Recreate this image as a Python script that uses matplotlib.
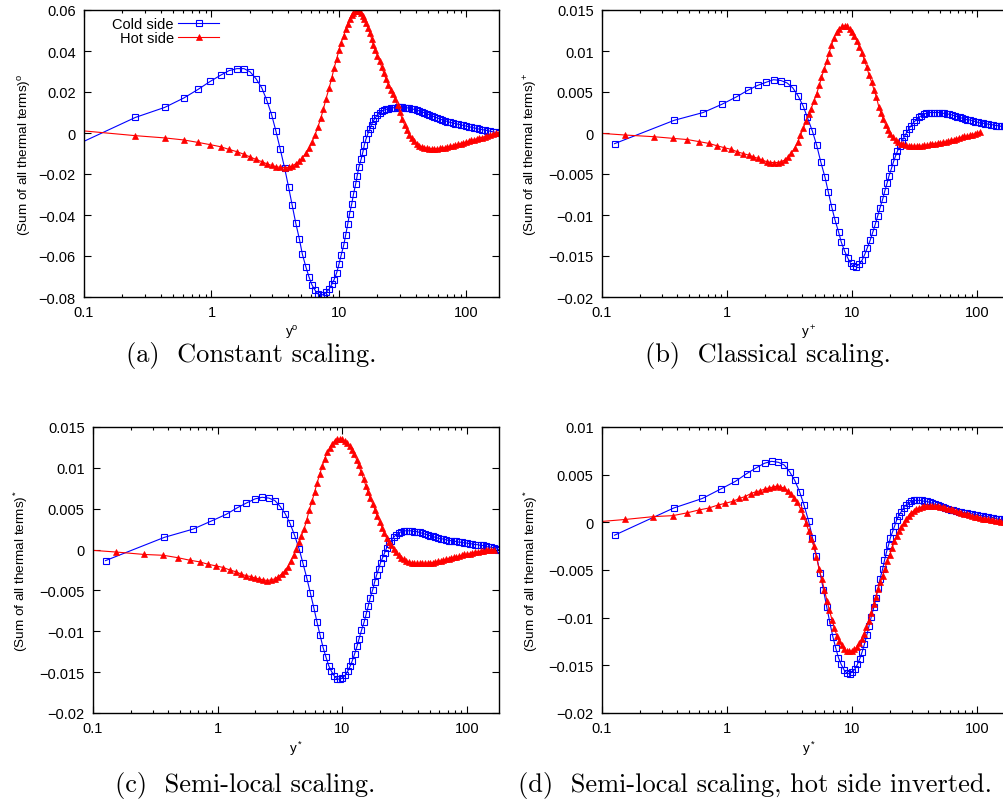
import matplotlib
matplotlib.use("Agg")
import matplotlib.pyplot as plt
from matplotlib.ticker import FixedLocator, LogLocator, FuncFormatter, NullFormatter

plt.rcParams['font.family'] = ['Liberation Sans', 'DejaVu Sans']
plt.rcParams['mathtext.fontset'] = 'custom'
plt.rcParams['mathtext.rm'] = 'Liberation Sans'
plt.rcParams['mathtext.it'] = 'Liberation Sans'

# ---- (a) constant scaling: both sides on the same grid ----
x_a = [0.073, 0.253, 0.43, 0.608, 0.786, 0.979, 1.18, 1.37, 1.58, 1.80,
       2.01, 2.24, 2.48, 2.71, 2.96, 3.20, 3.46, 3.74, 4.02, 4.29,
       4.58, 4.89, 5.16, 5.50, 5.81, 6.13, 6.47, 6.82, 7.20, 7.55,
       7.92, 8.36, 8.77, 9.15, 9.58, 10.0, 10.4, 10.9, 11.3, 11.7,
       12.1, 12.6, 13.0, 13.5, 13.9, 14.3, 14.9, 15.4, 15.8, 16.3,
       16.9, 17.5, 18.0, 18.6, 19.2, 20.0, 20.8, 21.6, 22.5, 23.4,
       24.4, 25.4, 26.5, 27.6, 28.8, 30.0, 31.3, 32.7, 34.1, 35.6,
       37.2, 38.9, 40.7, 42.6, 44.6, 46.7, 48.9, 51.2, 53.6, 56.1,
       58.8, 61.6, 64.6, 67.7, 71.0, 74.4, 78.0, 81.8, 85.8, 90.0,
       94.4, 99.0, 104, 109, 114, 120, 126, 132, 139, 146,
       153, 161, 170, 180]
cold_a = [-0.0080, 0.0076, 0.0125, 0.0171, 0.0213, 0.0252, 0.0282, 0.0304, 0.0314, 0.0314,
          0.0298, 0.0264, 0.0220, 0.0161, 0.0090, 0.0010, -0.0078, -0.0169, -0.0262, -0.0351,
          -0.0439, -0.0517, -0.0591, -0.0653, -0.0701, -0.0740, -0.0766, -0.0784, -0.0791, -0.0788,
          -0.0778, -0.0762, -0.0739, -0.0716, -0.0683, -0.0640, -0.0596, -0.0547, -0.0496, -0.0446,
          -0.0395, -0.0345, -0.0298, -0.0251, -0.0208, -0.0168, -0.0129, -0.0093, -0.0059, -0.0029,
          -0.0002, 0.0020, 0.0041, 0.0059, 0.0073, 0.0088, 0.0099, 0.0106, 0.0111, 0.0115,
          0.0118, 0.0121, 0.0123, 0.0124, 0.0125, 0.0125, 0.0125, 0.0124, 0.0123, 0.0121,
          0.0118, 0.0115, 0.0112, 0.0108, 0.0104, 0.0099, 0.0094, 0.0089, 0.0084, 0.0079,
          0.0074, 0.0069, 0.0064, 0.0060, 0.0056, 0.0052, 0.0049, 0.0046, 0.0043, 0.0040,
          0.0037, 0.0034, 0.0031, 0.0028, 0.0025, 0.0022, 0.0019, 0.0017, 0.0014, 0.0012,
          0.0009, 0.0006, 0.0003, 0.0]
hot_a = [0.0018, -0.0013, -0.0024, -0.0034, -0.0046, -0.0057, -0.0067, -0.0080, -0.0091, -0.0104,
         -0.0117, -0.0129, -0.0140, -0.0150, -0.0158, -0.0164, -0.0168, -0.0169, -0.0168, -0.0161,
         -0.0150, -0.0137, -0.0120, -0.0099, -0.0075, -0.0046, -0.0011, 0.0028, 0.0072, 0.0117,
         0.0168, 0.0218, 0.0267, 0.0316, 0.0360, 0.0404, 0.0441, 0.0475, 0.0506, 0.0532,
         0.0556, 0.0574, 0.0587, 0.0595, 0.0597, 0.0594, 0.0584, 0.0573, 0.0557, 0.0536,
         0.0512, 0.0486, 0.0460, 0.0430, 0.0405, 0.0378, 0.0350, 0.0322, 0.0292, 0.0262,
         0.0236, 0.0212, 0.0190, 0.0165, 0.0135, 0.0102, 0.0068, 0.0040, 0.0014, -0.0008,
         -0.0026, -0.0041, -0.0052, -0.0061, -0.0067, -0.0071, -0.0074, -0.0076, -0.0076, -0.0076,
         -0.0076, -0.0075, -0.0073, -0.0071, -0.0068, -0.0065, -0.0062, -0.0058, -0.0055, -0.0052,
         -0.0048, -0.0044, -0.0040, -0.0036, -0.0033, -0.0029, -0.0025, -0.0022, -0.0018, -0.0014,
         -0.0010, -0.0006, -0.0002, 0.0]

# ---- (b) classical scaling ----
xc_b = [0.126, 0.378, 0.644, 0.908, 1.186, 1.46, 1.75, 2.06, 2.35, 2.69,
        3.02, 3.35, 3.70, 4.05, 4.38, 4.81, 5.20, 5.60, 6.06, 6.44,
        6.85, 7.28, 7.79, 8.17, 8.69, 9.18, 9.70, 10.1, 10.7, 11.4,
        12.0, 12.6, 13.2, 13.9, 14.6, 15.3, 16.0, 16.7, 17.5, 18.2,
        19.0, 19.7, 20.6, 21.4, 22.2, 23.0, 24.0, 25.0, 26.0, 27.1,
        28.3, 29.6, 31.0, 32.5, 34.0, 35.6, 37.3, 39.1, 41.0, 43.0,
        45.1, 47.3, 49.6, 52.0, 54.5, 57.1, 59.9, 62.8, 65.8, 69.0,
        72.3, 75.8, 79.5, 83.4, 87.4, 91.6, 96.0, 101, 106, 111,
        116, 122, 128, 134, 141, 148, 155, 163, 171, 180,
        190, 200, 211, 222, 234, 246]
cold_b = [-0.0013, 0.00155, 0.0025, 0.0035, 0.0044, 0.0052, 0.0058, 0.0062, 0.0065, 0.0064,
          0.0061, 0.0055, 0.0045, 0.0033, 0.0019, 0.0002, -0.0015, -0.0035, -0.0054, -0.0072,
          -0.0090, -0.0106, -0.0121, -0.0133, -0.0144, -0.0152, -0.0159, -0.0162, -0.0163, -0.0160,
          -0.0155, -0.0148, -0.0140, -0.0131, -0.0121, -0.0111, -0.0101, -0.0091, -0.0081, -0.0071,
          -0.0061, -0.0052, -0.0043, -0.0035, -0.0028, -0.0022, -0.0016, -0.0010, -0.0005, 0.0,
          0.0005, 0.0009, 0.0013, 0.0016, 0.0019, 0.0021, 0.0023, 0.0024, 0.0025, 0.0025,
          0.0025, 0.0025, 0.0025, 0.0024, 0.0024, 0.0023, 0.0023, 0.0022, 0.0021, 0.0020,
          0.0019, 0.0018, 0.0017, 0.0016, 0.0016, 0.0015, 0.0014, 0.0013, 0.0012, 0.0012,
          0.0011, 0.0011, 0.0010, 0.0010, 0.0009, 0.0009, 0.0008, 0.0008, 0.0007, 0.0006,
          0.0005, 0.0004, 0.0003, 0.0002, 0.0001, 0.0]
xh_b = [0.047, 0.154, 0.259, 0.367, 0.481, 0.596, 0.71, 0.828, 0.953, 1.08,
        1.21, 1.34, 1.49, 1.62, 1.77, 1.91, 2.07, 2.21, 2.38, 2.55,
        2.71, 2.88, 3.08, 3.27, 3.48, 3.67, 3.85, 4.07, 4.27, 4.49,
        4.68, 4.94, 5.19, 5.45, 5.68, 5.97, 6.27, 6.54, 6.82, 7.16,
        7.52, 7.89, 8.28, 8.69, 9.08, 9.53, 10.0, 10.4, 10.9, 11.4,
        12.0, 12.5, 13.1, 13.6, 14.3, 14.9, 15.6, 16.3, 17.0, 17.7,
        18.5, 19.3, 20.2, 21.2, 22.2, 23.3, 24.4, 25.6, 26.9, 28.2,
        29.6, 31.1, 32.7, 34.3, 36.0, 37.8, 39.7, 41.7, 43.8, 46.0,
        48.3, 50.7, 53.2, 55.9, 58.7, 61.6, 64.7, 67.9, 71.3, 74.9,
        78.6, 82.5, 86.6, 91.0, 95.5, 100, 105]
hot_b = [0.0003, -0.00025, -0.00045, -0.00065, -0.0008, -0.00105, -0.00126, -0.00155, -0.0018, -0.0020,
         -0.0023, -0.0025, -0.0027, -0.0029, -0.0031, -0.0033, -0.0035, -0.0036, -0.0036, -0.0036,
         -0.0035, -0.0033, -0.0029, -0.0024, -0.0018, -0.0011, -0.0003, 0.0006, 0.0015, 0.0023,
         0.0029, 0.0039, 0.0048, 0.0058, 0.0068, 0.0078, 0.0088, 0.0098, 0.0107, 0.0116,
         0.0123, 0.0127, 0.0130, 0.0131, 0.0130, 0.0127, 0.0123, 0.0118, 0.0112, 0.0105,
         0.0097, 0.0089, 0.0080, 0.0071, 0.0062, 0.0053, 0.0044, 0.0032, 0.0024, 0.0017,
         0.0010, 0.0004, -0.0001, -0.0005, -0.0008, -0.0011, -0.0013, -0.0014, -0.0015, -0.0016,
         -0.0016, -0.0016, -0.0016, -0.0016, -0.0016, -0.0015, -0.0015, -0.0014, -0.0013, -0.0013,
         -0.0012, -0.0012, -0.0011, -0.0011, -0.0010, -0.0009, -0.0008, -0.0007, -0.0006, -0.0005,
         -0.0004, -0.0004, -0.0003, -0.0002, -0.0001, 0.0, 0.0001]

# ---- (c) semi-local scaling (also used in (d)) ----
xc_c = [0.126, 0.374, 0.633, 0.891, 1.165, 1.43, 1.70, 1.99, 2.27, 2.57,
        2.87, 3.16, 3.47, 3.80, 4.12, 4.49, 4.81, 5.18, 5.53, 5.89,
        6.26, 6.62, 7.00, 7.39, 7.76, 8.16, 8.62, 9.06, 9.52, 10.0,
        10.5, 11.0, 11.5, 12.0, 12.5, 13.1, 13.6, 14.2, 14.9, 15.5,
        16.1, 16.7, 17.5, 18.1, 18.8, 19.5, 20.2, 21.0, 21.8, 22.6,
        23.5, 24.6, 25.7, 26.9, 28.2, 29.6, 31.0, 32.5, 34.1, 35.8,
        37.6, 39.5, 41.5, 43.6, 45.8, 48.1, 50.5, 53.0, 55.6, 58.4,
        61.3, 64.4, 67.6, 71.0, 74.5, 78.2, 82.1, 86.2, 90.5, 95.0,
        99.8, 105, 110, 116, 122, 128, 134, 141, 148, 155,
        163, 171, 178]
cold_c = [-0.00135, 0.0015, 0.0025, 0.0035, 0.0043, 0.0051, 0.0057, 0.0062, 0.0064, 0.0063,
          0.0060, 0.0053, 0.0044, 0.0032, 0.0018, 0.0001, -0.0016, -0.0035, -0.0053, -0.0071,
          -0.0089, -0.0105, -0.0120, -0.0132, -0.0142, -0.0149, -0.0155, -0.0158, -0.0159, -0.0157,
          -0.0154, -0.0149, -0.0143, -0.0136, -0.0128, -0.0118, -0.0109, -0.0099, -0.0089, -0.0079,
          -0.0069, -0.0059, -0.0049, -0.0040, -0.0031, -0.0024, -0.0016, -0.0010, -0.0004, 0.0002,
          0.0007, 0.0011, 0.0015, 0.0018, 0.0020, 0.0022, 0.0023, 0.0023, 0.0023, 0.0023,
          0.0022, 0.0022, 0.0021, 0.0020, 0.0019, 0.0018, 0.0017, 0.0016, 0.0015, 0.0014,
          0.0013, 0.0013, 0.0012, 0.0011, 0.0011, 0.0010, 0.0010, 0.0009, 0.0009, 0.0008,
          0.0008, 0.0007, 0.0007, 0.0006, 0.0006, 0.0005, 0.0005, 0.0004, 0.0003, 0.0003,
          0.0002, 0.0001, 0.0]
xh_c = [0.047, 0.153, 0.258, 0.367, 0.481, 0.596, 0.715, 0.838, 0.97, 1.11,
        1.25, 1.39, 1.54, 1.69, 1.84, 2.0, 2.16, 2.32, 2.50, 2.67,
        2.86, 3.06, 3.25, 3.45, 3.65, 3.86, 4.07, 4.28, 4.49, 4.69,
        4.92, 5.17, 5.43, 5.70, 5.99, 6.28, 6.56, 6.89, 7.19, 7.55,
        7.88, 8.28, 8.64, 9.02, 9.48, 10.0, 10.4, 10.9, 11.4, 11.9,
        12.4, 13.0, 13.5, 14.1, 14.8, 15.4, 16.1, 16.7, 17.5, 18.2,
        19.0, 19.9, 20.8, 21.7, 22.6, 23.6, 24.6, 25.7, 26.9, 28.2,
        29.6, 31.0, 32.5, 34.1, 35.8, 37.6, 39.5, 41.5, 43.6, 45.8,
        48.1, 50.5, 53.0, 55.6, 58.4, 61.3, 64.4, 67.6, 71.0, 74.5,
        78.2, 82.1, 86.2, 90.5, 95.0, 99.8, 105, 110, 116, 122,
        128, 134, 141, 148, 155, 163]
hot_c = [0.00027, -0.0003, -0.0006, -0.0007, -0.0010, -0.0013, -0.0015, -0.0018, -0.0020, -0.0022,
         -0.0025, -0.0027, -0.0030, -0.0032, -0.0033, -0.0035, -0.0036, -0.0037, -0.0038, -0.0037,
         -0.0036, -0.0033, -0.0030, -0.0026, -0.0021, -0.0014, -0.0007, 0.0001, 0.0009, 0.0017,
         0.0025, 0.0036, 0.0049, 0.0059, 0.0071, 0.0082, 0.0092, 0.0102, 0.0111, 0.0119,
         0.0124, 0.0129, 0.0133, 0.0135, 0.0135, 0.0135, 0.0133, 0.0131, 0.0127, 0.0122,
         0.0117, 0.0110, 0.0103, 0.0095, 0.0086, 0.0078, 0.0070, 0.0063, 0.0056, 0.0049,
         0.0041, 0.0034, 0.0027, 0.0020, 0.0014, 0.0009, 0.0005, 0.0001, -0.0003, -0.0007,
         -0.0010, -0.0012, -0.0014, -0.0015, -0.0016, -0.0017, -0.0017, -0.0017, -0.0017, -0.0017,
         -0.0017, -0.0016, -0.0016, -0.0015, -0.0014, -0.0014, -0.0013, -0.0012, -0.0011, -0.0010,
         -0.0009, -0.0009, -0.0008, -0.0007, -0.0006, -0.0006, -0.0005, -0.0004, -0.0003, -0.0003,
         -0.0002, -0.0002, -0.0001, -0.0001, 0.0, 0.0]
# (d) hot side inverted
hot_d = [-v for v in hot_c]

W, H = 1004, 812
fig = plt.figure(figsize=(W / 100, H / 100), dpi=100)


def box(l, t, r, b):
    return [l / W, 1 - b / H, (r - l) / W, (b - t) / H]


def yfmt(v, pos):
    if abs(v) < 1e-12:
        return '0'
    return ('%g' % v).replace('-', '\u2212')


def setup(ax, xmax, ylim, ystep, sup, ylab_x):
    ax.set_xscale('log')
    ax.set_xlim(0.1, xmax)
    ax.set_ylim(*ylim)
    n = int(round((ylim[1] - ylim[0]) / ystep))
    ax.yaxis.set_major_locator(FixedLocator([ylim[0] + i * ystep for i in range(n + 1)]))
    ax.yaxis.set_major_formatter(FuncFormatter(yfmt))
    ax.xaxis.set_major_locator(FixedLocator([0.1, 1, 10, 100]))
    ax.xaxis.set_major_formatter(FuncFormatter(lambda v, p: '%g' % v))
    ax.xaxis.set_minor_locator(LogLocator(base=10, subs=range(2, 10)))
    ax.xaxis.set_minor_formatter(NullFormatter())
    ax.tick_params(which='both', direction='in', top=True, right=True,
                   labelsize=10.5, width=0.8)
    ax.tick_params(which='major', length=5, pad=6)
    ax.tick_params(which='minor', length=2.5)
    for s in ax.spines.values():
        s.set_linewidth(1.0)
    ax.set_ylabel('(Sum of all thermal terms)$^{\\rm ' + sup + '}$', fontsize=9.7)
    ax.yaxis.set_label_coords(ylab_x, 0.5)
    ax.set_xlabel('y$^{\\rm ' + sup + '}$', fontsize=9.7)
    ax.xaxis.set_label_coords(0.5, -0.09)


def curves(ax, xc, yc, xh, yh):
    ax.plot(xc, yc, color='#0000ff', lw=0.8, marker='s', ms=3.8, mfc='none',
            mew=0.8, label='Cold side')
    ax.plot(xh, yh, color='#ff0000', lw=0.8, marker='^', ms=4, mew=0.5,
            label='Hot side')


ax_a = fig.add_axes(box(84, 11, 499, 298))
curves(ax_a, x_a, cold_a, x_a, hot_a)
setup(ax_a, 180, (-0.08, 0.06), 0.02, 'o', -0.122)
ax_a.legend(loc='upper right', bbox_to_anchor=((219 - 84) / 415, 0.975),
            frameon=False, markerfirst=False, fontsize=10.5, handlelength=2.8,
            handletextpad=0.3, labelspacing=0.0, borderpad=0, borderaxespad=0)

ax_b = fig.add_axes(box(602, 11, 1015, 298))
curves(ax_b, xc_b, cold_b, xh_b, hot_b)
setup(ax_b, 200, (-0.02, 0.015), 0.005, '+', -0.15)

ax_c = fig.add_axes(box(93, 428, 499, 714))
curves(ax_c, xc_c, cold_c, xh_c, hot_c)
setup(ax_c, 180, (-0.02, 0.015), 0.005, '*', -0.155)

ax_d = fig.add_axes(box(602, 428, 1015, 714))
curves(ax_d, xc_c, cold_c, xh_c, hot_d)
setup(ax_d, 200, (-0.02, 0.01), 0.005, '*', -0.15)

captions = [(251, 356, '(a)  Constant scaling.'),
            (768, 356, '(b)  Classical scaling.'),
            (245, 786, '(c)  Semi-local scaling.'),
            (755, 786, '(d)  Semi-local scaling, hot side inverted.')]
for cx, cy, txt in captions:
    fig.text(cx / W, 1 - cy / H, txt, ha='center', va='center',
             family='cmr10', fontsize=19)

fig.savefig('out.png', dpi=100)
